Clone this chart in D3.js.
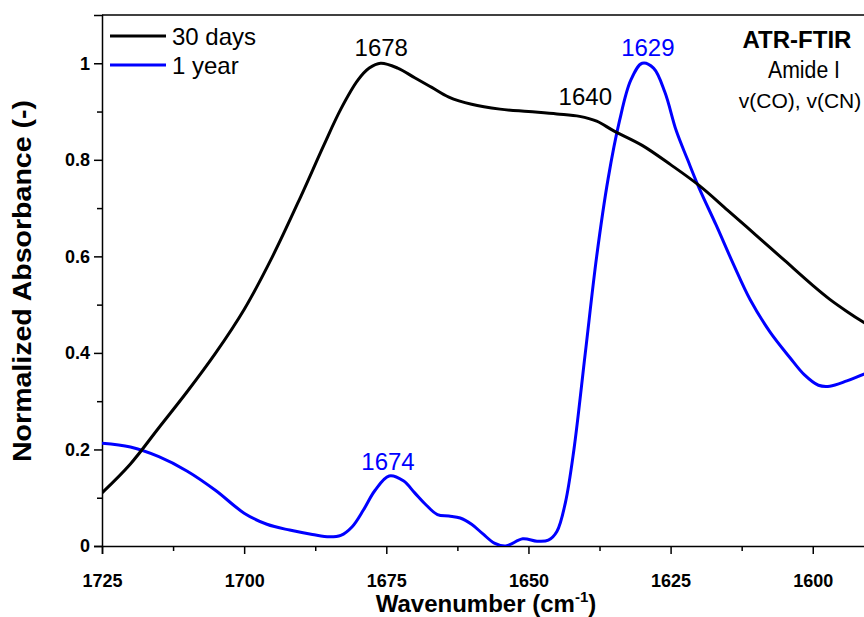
<!DOCTYPE html>
<html>
<head>
<meta charset="utf-8">
<script src="https://cdn.jsdelivr.net/npm/d3@7"></script>
<style>
  html, body { margin: 0; padding: 0; background: #fff; }
  svg { display: block; font-family: "Liberation Sans", Arial, sans-serif; }
</style>
</head>
<body>
<svg id="chart" width="864" height="617"></svg>
<script>
// ---- data ----
const wn30 = [1725, 1720, 1715, 1710, 1705, 1700, 1695, 1690, 1686, 1683, 1680, 1678, 1676, 1673, 1670, 1667, 1664, 1660, 1655, 1650, 1645, 1641, 1638, 1635, 1630, 1625, 1620, 1615, 1610, 1605, 1600, 1597, 1594, 1591, 1588];
const abs30 = [0.11, 0.17, 0.245, 0.32, 0.40, 0.49, 0.60, 0.725, 0.83, 0.905, 0.965, 0.99, 1.0, 0.99, 0.97, 0.95, 0.93, 0.915, 0.905, 0.90, 0.895, 0.89, 0.88, 0.86, 0.83, 0.79, 0.747, 0.696, 0.644, 0.592, 0.54, 0.511, 0.486, 0.463, 0.442];

const wn1y = [1725, 1720, 1715, 1710, 1705, 1700, 1696, 1692, 1688, 1685, 1683, 1681, 1679, 1677, 1674.5, 1672, 1670, 1668, 1666, 1664, 1662, 1660, 1658, 1656, 1654, 1651, 1648.5, 1646.5, 1645, 1643.5, 1642, 1640, 1638, 1636, 1634, 1632, 1630, 1628, 1626, 1624, 1622, 1620, 1617, 1614, 1611, 1607.5, 1604, 1601.5, 1599, 1597, 1594, 1591, 1588];
const abs1y = [0.213, 0.205, 0.185, 0.155, 0.115, 0.068, 0.045, 0.033, 0.024, 0.019, 0.022, 0.04, 0.075, 0.115, 0.145, 0.135, 0.11, 0.085, 0.065, 0.062, 0.058, 0.045, 0.025, 0.006, 0.0, 0.015, 0.01, 0.012, 0.03, 0.09, 0.2, 0.4, 0.6, 0.76, 0.88, 0.965, 1.0, 0.99, 0.94, 0.86, 0.80, 0.742, 0.665, 0.585, 0.51, 0.443, 0.39, 0.355, 0.333, 0.331, 0.342, 0.356, 0.368];

const xTicks = [1725, 1700, 1675, 1650, 1625, 1600];
const xMinor = [1712.5, 1687.5, 1662.5, 1637.5, 1612.5];
const yTicks = [0, 0.2, 0.4, 0.6, 0.8, 1];
const yMinor = [0.1, 0.3, 0.5, 0.7, 0.9];
const yTickLabels = ["0", "0.2", "0.4", "0.6", "0.8", "1"];

const seriesNames = ["30 days", "1 year"];
const seriesColors = ["#000000", "#0000ff"];

// ---- layout ----
const svg = d3.select("#chart");
const mLeft = 102, mTop = 15, mBottom = 546, mRight = 900;
const x = d3.scaleLinear().domain([1725, 1725 - (mRight - mLeft) / 5.686]).range([mLeft, mRight]);
const y = d3.scaleLinear().domain([0, 1.1]).range([mBottom, mTop]);

svg.append("defs").append("clipPath").attr("id", "clip")
  .append("rect").attr("x", mLeft).attr("y", mTop).attr("width", mRight - mLeft).attr("height", mBottom - mTop);

// frame top line
svg.append("line").attr("x1", mLeft).attr("x2", 864).attr("y1", mTop).attr("y2", mTop)
  .attr("stroke", "#000").attr("stroke-width", 1.5);

// x axis
svg.append("g").attr("transform", `translate(0,${mBottom})`)
  .call(d3.axisBottom(x).tickValues(xTicks).tickFormat(d3.format("d")).tickSize(8).tickPadding(20));
svg.append("g").attr("transform", `translate(0,${mBottom})`)
  .call(d3.axisBottom(x).tickValues(xMinor).tickFormat("").tickSize(5))
  .select(".domain").remove();

// y axis
svg.append("g").attr("transform", `translate(${mLeft},0)`)
  .call(d3.axisLeft(y).tickValues(yTicks).tickFormat((d, i) => yTickLabels[i]).tickSize(8).tickPadding(4));
svg.append("g").attr("transform", `translate(${mLeft},0)`)
  .call(d3.axisLeft(y).tickValues(yMinor).tickFormat("").tickSize(5))
  .select(".domain").remove();

svg.selectAll(".domain").attr("stroke", "#000").attr("stroke-width", 1.5);
svg.selectAll(".tick line").attr("stroke", "#000").attr("stroke-width", 1.5);
svg.selectAll(".tick text").attr("font-family", "Liberation Sans, Arial, sans-serif")
  .attr("font-size", 18).attr("font-weight", "bold").attr("fill", "#000");

// axis titles
const xt = svg.append("text").attr("x", 486).attr("y", 612).attr("text-anchor", "middle")
  .attr("font-size", 24).attr("font-weight", "bold");
xt.append("tspan").text("Wavenumber (cm");
xt.append("tspan").attr("font-size", 15).attr("dy", -10).text("-1");
xt.append("tspan").attr("dy", 10).text(")");
svg.append("text").attr("transform", "translate(31,281) rotate(-90)").attr("text-anchor", "middle")
  .attr("font-size", 25).attr("font-weight", "bold")
  .attr("textLength", 362).attr("lengthAdjust", "spacingAndGlyphs")
  .text("Normalized Absorbance (-)");

// lines
const line = d3.line().x(d => x(d[0])).y(d => y(d[1])).curve(d3.curveCatmullRom.alpha(0.5));
const g = svg.append("g").attr("clip-path", "url(#clip)");
g.append("path").datum(d3.zip(wn1y, abs1y)).attr("d", line)
  .attr("fill", "none").attr("stroke", seriesColors[1]).attr("stroke-width", 3);
g.append("path").datum(d3.zip(wn30, abs30)).attr("d", line)
  .attr("fill", "none").attr("stroke", seriesColors[0]).attr("stroke-width", 3);

// legend
seriesNames.forEach((name, i) => {
  const yy = 36 + i * 29;
  svg.append("line").attr("x1", 110).attr("x2", 166).attr("y1", yy).attr("y2", yy)
    .attr("stroke", seriesColors[i]).attr("stroke-width", 3);
  svg.append("text").attr("x", 172).attr("y", yy + 9).attr("font-size", 24).attr("fill", "#000").text(name);
});

// annotations
const ann = [
  {t: "1678", wn: 1678, yy: 56, c: "#000", off: 12},
  {t: "1640", wn: 1640, yy: 105, c: "#000", off: 0},
  {t: "1629", wn: 1629, yy: 56, c: "#0000ff", off: 0},
  {t: "1674", wn: 1674, yy: 470, c: "#0000ff", off: -4}
];
ann.forEach(a => {
  svg.append("text").attr("x", x(a.wn) + a.off)
    .attr("y", a.yy).attr("text-anchor", "middle").attr("font-size", 24).attr("fill", a.c).text(a.t);
});
svg.append("text").attr("x", 797).attr("y", 48).attr("text-anchor", "middle")
  .attr("font-size", 24).attr("font-weight", "bold").text("ATR-FTIR");
svg.append("text").attr("x", 804).attr("y", 78).attr("text-anchor", "middle")
  .attr("font-size", 23).attr("textLength", 72).attr("lengthAdjust", "spacingAndGlyphs").text("Amide I");
svg.append("text").attr("x", 800).attr("y", 108).attr("text-anchor", "middle")
  .attr("font-size", 21).text("v(CO), v(CN)");
</script>
</body>
</html>
